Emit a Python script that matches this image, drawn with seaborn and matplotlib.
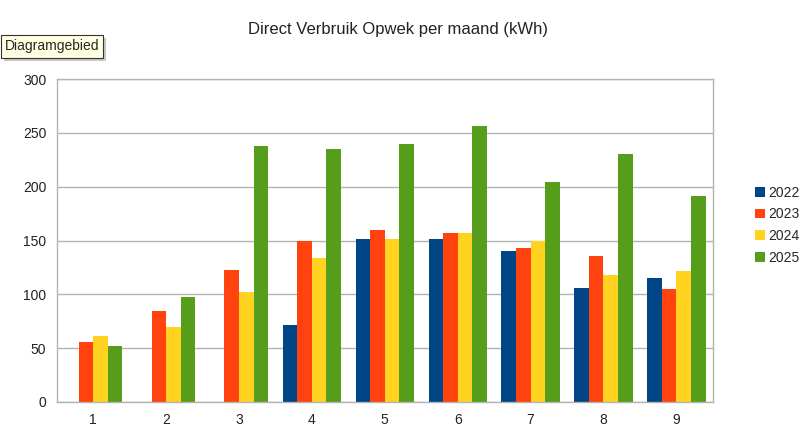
import pandas as pd
import numpy as np
import matplotlib.pyplot as plt
import matplotlib.patches as mpatches
import seaborn as sns

# Direct verbruik opwek per maand (kWh)
maanden = [1, 2, 3, 4, 5, 6, 7, 8, 9]
jaren = ['2022', '2023', '2024', '2025']
v2022 = [np.nan, np.nan, np.nan, 72, 151, 151, 140, 106, 115]
v2023 = [56, 85, 123, 150, 160, 157, 143, 136, 105]
v2024 = [61, 70, 102, 134, 151, 157, 150, 118, 122]
v2025 = [52, 98, 238, 235, 240, 256, 204, 230, 191]
kleuren = ['#004586', '#ff420e', '#ffd320', '#579d1c']

rows = []
for jaar, vals in zip(jaren, [v2022, v2023, v2024, v2025]):
    for m, v in zip(maanden, vals):
        rows.append({'maand': str(m), 'jaar': jaar, 'kWh': v})
df = pd.DataFrame(rows)

sns.set_style('white')
plt.rcParams['font.family'] = ['Liberation Sans', 'DejaVu Sans']

fig = plt.figure(figsize=(8, 4.42), dpi=100)
ax = fig.add_axes([0.071, 0.0905, 0.82, 0.7305])

sns.barplot(
    data=df, x='maand', y='kWh', hue='jaar',
    palette=kleuren, width=0.8, saturation=1,
    edgecolor='none', ax=ax
)

ax.set_ylim(0, 300)
ax.set_xlim(-0.5, len(maanden) - 0.5)
ax.set_yticks(range(0, 301, 50))
ax.yaxis.grid(True, color='#b3b3b3', linewidth=1)
ax.set_axisbelow(True)
ax.set_xlabel('')
ax.set_ylabel('')

# tick marks between the categories
ax.set_xticks(np.arange(-0.5, len(maanden)), minor=True)
ax.tick_params(axis='x', which='major', length=0, pad=8, labelsize=10, labelcolor='#222222')
ax.tick_params(axis='x', which='minor', length=5, color='#b3b3b3', width=1)
ax.tick_params(axis='y', length=4, color='#b3b3b3', labelsize=10, labelcolor='#222222')
for s in ax.spines.values():
    s.set_color('#b3b3b3')
    s.set_linewidth(1)

handles, labels = ax.get_legend_handles_labels()
ax.legend(handles, labels, loc='center left', bbox_to_anchor=(1.045, 0.548),
          frameon=False, fontsize=10, handlelength=0.7, handleheight=0.7,
          handletextpad=0.3, labelspacing=0.55)

fig.suptitle('Direct Verbruik Opwek per maand (kWh)', x=0.497, y=0.95,
             fontsize=12, color='#222222')

# tooltip "Diagramgebied" with a little shadow
tip = fig.text(0.006, 0.895, 'Diagramgebied', fontsize=10, va='center', ha='left',
               zorder=5,
               bbox=dict(boxstyle='square,pad=0.3', facecolor='#ffffe1',
                         edgecolor='#333333', linewidth=0.8))
fig.canvas.draw()
bb = tip.get_bbox_patch().get_window_extent()
shadow = mpatches.Rectangle((bb.x0 + 3, bb.y0 - 3), bb.width, bb.height,
                            transform=None, facecolor='#c8c8c8',
                            edgecolor='none', zorder=4)
fig.patches.append(shadow)

fig.savefig('out.png', dpi=100)
